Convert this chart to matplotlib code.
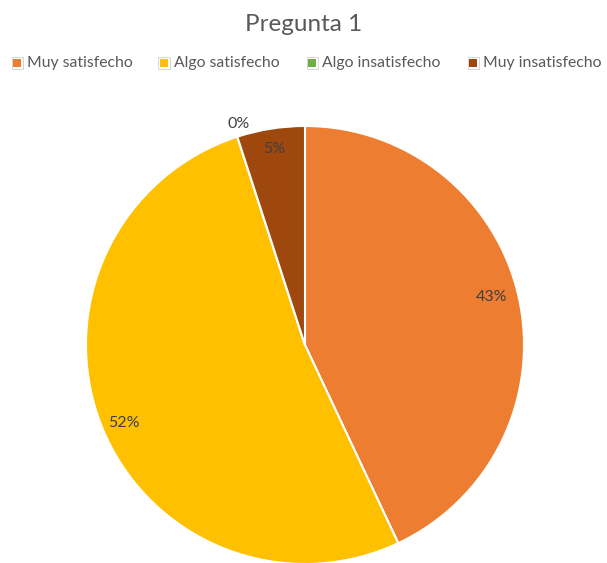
import numpy as np
import matplotlib.pyplot as plt
from matplotlib.patches import Rectangle

plt.rcParams['font.family'] = ['Lato', 'DejaVu Sans']

# data
categories = ['Muy satisfecho', 'Algo satisfecho', 'Algo insatisfecho', 'Muy insatisfecho']
values = [43, 52, 0, 5]
labels = ['43%', '52%', '0%', '5%']
colors = ['#ED7D31', '#FFC000', '#70AD47', '#9E480E']
label_r = [0.88, 0.90, 1.055, 0.905]   # radial position of each label
label_shift = [1.8, 1.7, -1.4, 0.0]   # small angle nudge (deg)

W, H = 607, 563
fig = plt.figure(figsize=(W / 100, H / 100), dpi=100)
ax = fig.add_axes([86 / W, -1 / H, 438 / W, 438 / H])

wedges, _ = ax.pie(values, colors=colors, startangle=90, counterclock=False,
                   radius=1, wedgeprops=dict(edgecolor='white', linewidth=1.5))
ax.set_xlim(-1, 1)
ax.set_ylim(-1, 1)
ax.set_aspect('equal')
ax.axis('off')

for w, lab, r, sh in zip(wedges, labels, label_r, label_shift):
    mid = np.deg2rad((w.theta1 + w.theta2) / 2 + sh)
    ax.text(r * np.cos(mid), r * np.sin(mid), lab, ha='center', va='center',
            fontsize=11.5, color='#404040')

fig.text(0.5, 1 - 31 / H, 'Pregunta 1', ha='center', va='baseline',
         fontsize=17.5, color='#595959')

# legend, drawn by hand to match spacing
leg_x = [13, 160, 308, 469]
for x, cat, col in zip(leg_x, categories, colors):
    fig.patches.append(Rectangle(((x - 1.5) / W, 1 - 68.5 / H), 11 / W, 11 / H,
                                 transform=fig.transFigure, facecolor='white',
                                 edgecolor='#d0d0d0', linewidth=0.6))
    fig.patches.append(Rectangle((x / W, 1 - 67 / H), 8 / W, 8 / H,
                                 transform=fig.transFigure, facecolor=col,
                                 edgecolor='none'))
    fig.text((x + 14) / W, 1 - 67 / H, cat, ha='left', va='baseline',
             fontsize=11.3, color='#595959')

fig.savefig('out.png', dpi=100)
